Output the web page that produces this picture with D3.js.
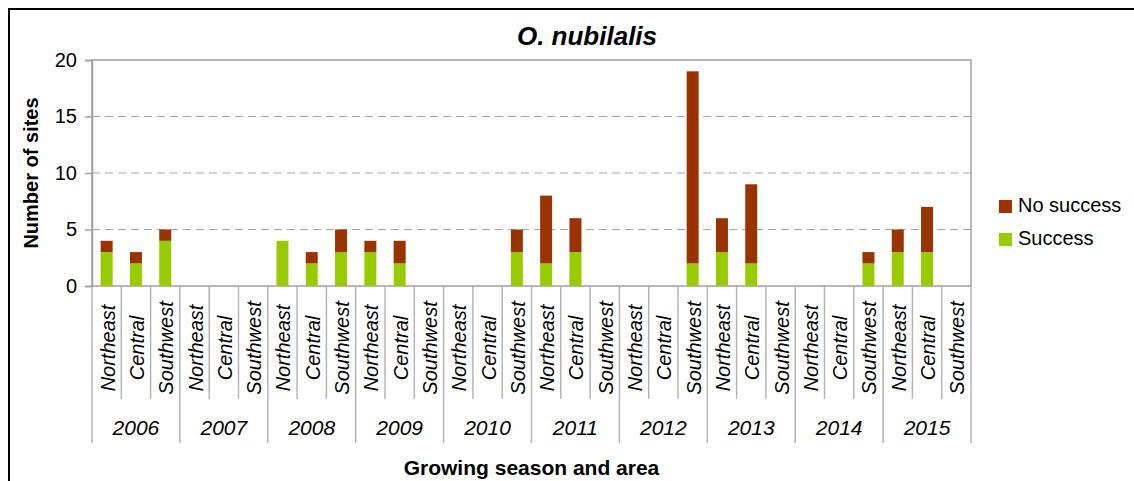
<!DOCTYPE html>
<html>
<head>
<meta charset="utf-8">
<script src="https://cdn.jsdelivr.net/npm/d3@7"></script>
<style>
  body { margin: 0; background: #fff; }
  text { font-family: Arial, "Liberation Sans", sans-serif; fill: #000; }
</style>
</head>
<body>
<div id="chart"></div>
<script>
// chart values
const years = ["2006", "2007", "2008", "2009", "2010", "2011", "2012", "2013", "2014", "2015"];
const areas = ["Northeast", "Central", "Southwest"];
const success   = [3, 2, 4,  0, 0, 0,  4, 2, 3,  3, 2, 0,  0, 0, 3,  2, 3, 0,  0, 0, 2,  3, 2, 0,  0, 0, 2,  3, 3, 0];
const noSuccess = [1, 1, 1,  0, 0, 0,  0, 1, 2,  1, 2, 0,  0, 0, 2,  6, 3, 0,  0, 0, 17, 3, 7, 0,  0, 0, 1,  2, 4, 0];
const seriesNames = ["Success", "No success"];
const yTicks = [0, 5, 10, 15, 20];

const colors = { "Success": "#99cc00", "No success": "#993300" };

const width = 1134, height = 481;
const plot = { left: 92, right: 971, top: 60, bottom: 286 };

const svg = d3.select("#chart")
    .append("svg")
    .attr("width", width)
    .attr("height", height);

// outer chart border (runs off the picture on the right and bottom)
svg.append("rect")
    .attr("x", 9)
    .attr("y", 9)
    .attr("width", 1140)
    .attr("height", 490)
    .attr("fill", "none")
    .attr("stroke", "#000")
    .attr("stroke-width", 2);

// build the rows: one per year/area
let rows = [];
years.forEach(function (yr, i) {
    areas.forEach(function (ar, j) {
        let k = i * 3 + j;
        rows.push({ key: yr + "|" + ar, year: yr, area: ar, "Success": success[k], "No success": noSuccess[k] });
    });
});

const x = d3.scaleBand()
    .domain(rows.map(d => d.key))
    .range([plot.left, plot.right])
    .paddingInner(0.59)
    .paddingOuter(0.295);

const y = d3.scaleLinear()
    .domain([0, 20])
    .range([plot.bottom, plot.top]);

const step = x.step();

// dashed gridlines
svg.append("g")
    .selectAll("line")
    .data(yTicks.filter(t => t > 0 && t < 20))
    .enter()
    .append("line")
    .attr("x1", plot.left)
    .attr("x2", plot.right)
    .attr("y1", d => y(d))
    .attr("y2", d => y(d))
    .attr("stroke", "#a6a6a6")
    .attr("stroke-width", 1)
    .attr("stroke-dasharray", "8,5");

// plot frame
svg.append("rect")
    .attr("x", plot.left)
    .attr("y", plot.top)
    .attr("width", plot.right - plot.left)
    .attr("height", plot.bottom - plot.top)
    .attr("fill", "none")
    .attr("stroke", "#a0a0a0")
    .attr("stroke-width", 1.5);

// stacked bars
const stacked = d3.stack().keys(seriesNames)(rows);

svg.append("g")
    .selectAll("g")
    .data(stacked)
    .enter()
    .append("g")
    .attr("fill", d => colors[d.key])
    .selectAll("rect")
    .data(d => d)
    .enter()
    .append("rect")
    .attr("x", d => x(d.data.key))
    .attr("width", x.bandwidth())
    .attr("y", d => y(d[1]))
    .attr("height", d => y(d[0]) - y(d[1]));

// y axis
const yAxis = d3.axisLeft(y)
    .tickValues(yTicks)
    .tickSize(7)
    .tickPadding(8);

const gy = svg.append("g")
    .attr("transform", "translate(" + plot.left + ",0)")
    .call(yAxis);
gy.select(".domain").attr("stroke", "#a0a0a0").attr("stroke-width", 1.5);
gy.selectAll(".tick line").attr("stroke", "#a0a0a0").attr("stroke-width", 1.5);
gy.selectAll(".tick text")
    .attr("font-size", "20px")
    .attr("font-family", "Arial, 'Liberation Sans', sans-serif")
    .attr("fill", "#000");

// category separators below the axis
const sep = svg.append("g");
for (let k = 0; k <= rows.length; k++) {
    let xx = plot.left + k * step;
    let isYear = (k % 3 === 0);
    sep.append("line")
        .attr("x1", xx)
        .attr("x2", xx)
        .attr("y1", plot.bottom)
        .attr("y2", isYear ? 443 : 399)
        .attr("stroke", "#b4b4b4")
        .attr("stroke-width", 1.5);
}

// area labels (rotated)
svg.append("g")
    .selectAll("text")
    .data(rows)
    .enter()
    .append("text")
    .attr("transform", d => "translate(" + (x(d.key) + x.bandwidth() / 2 + 1) + ",348) rotate(-90)")
    .attr("text-anchor", "middle")
    .attr("dy", "0.35em")
    .attr("font-size", "20px")
    .attr("font-style", "italic")
    .text(d => d.area);

// year labels
svg.append("g")
    .selectAll("text")
    .data(years)
    .enter()
    .append("text")
    .attr("x", (d, i) => plot.left + (i * 3 + 1.5) * step)
    .attr("y", 435)
    .attr("text-anchor", "middle")
    .attr("font-size", "21px")
    .attr("font-style", "italic")
    .text(d => d);

// title
svg.append("text")
    .attr("x", 587)
    .attr("y", 45)
    .attr("text-anchor", "middle")
    .attr("font-size", "26px")
    .attr("font-weight", "bold")
    .attr("font-style", "italic")
    .text("O. nubilalis");

// axis titles
svg.append("text")
    .attr("transform", "translate(38," + ((plot.top + plot.bottom) / 2) + ") rotate(-90)")
    .attr("text-anchor", "middle")
    .attr("font-size", "20px")
    .attr("font-weight", "bold")
    .text("Number of sites");

svg.append("text")
    .attr("x", (plot.left + plot.right) / 2)
    .attr("y", 475)
    .attr("text-anchor", "middle")
    .attr("font-size", "21px")
    .attr("font-weight", "bold")
    .text("Growing season and area");

// legend
const legendItems = ["No success", "Success"];
const legend = svg.append("g")
    .selectAll("g")
    .data(legendItems)
    .enter()
    .append("g")
    .attr("transform", (d, i) => "translate(999," + (200 + i * 33) + ")");

legend.append("rect")
    .attr("width", 13)
    .attr("height", 13)
    .attr("fill", d => colors[d]);

legend.append("text")
    .attr("x", 19)
    .attr("y", 12)
    .attr("font-size", "20px")
    .text(d => d);
</script>
</body>
</html>
